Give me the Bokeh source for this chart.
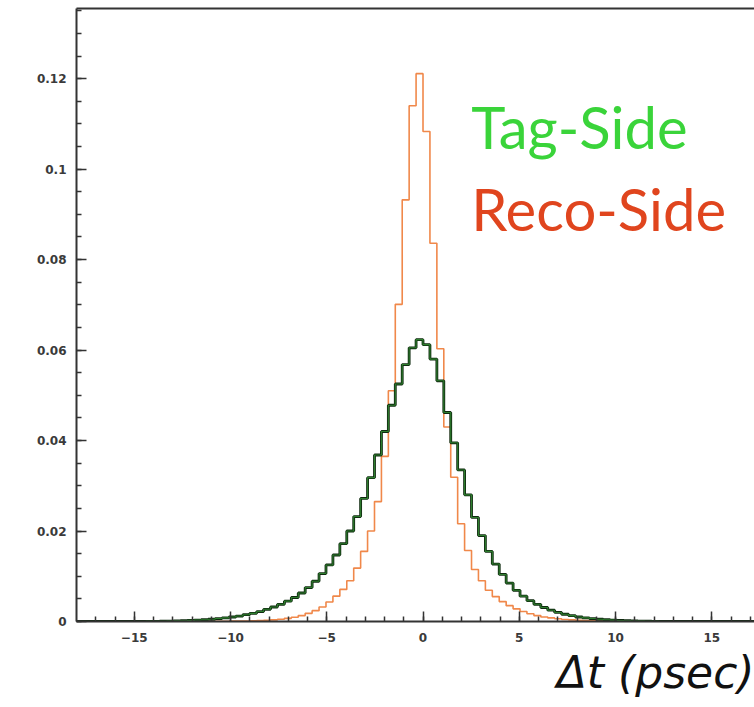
from bokeh.plotting import figure
from bokeh.models import FixedTicker, LinearAxis, Label, Range1d, Title
from bokeh.embed import file_html
from bokeh.resources import INLINE

# Histogram: 100 bins from -18 to 18 ps (bin width 0.36)
bin_lo = -18.0
bin_hi = 18.0
n_bins = 100

# Reco-Side (orange) bin contents, left to right
reco_side = [
    0, 0, 0, 0, 0, 0, 0, 0, 0, 0,
    0, 0, 0, 0, 0, 0, 0, 0, 0.00003, 0.00004,
    0.00005, 0.00006, 0.00008, 0.0001, 0.00012, 0.00016, 0.0002, 0.00027, 0.00037, 0.0005,
    0.0007, 0.00095, 0.0013, 0.0018, 0.0024, 0.0032, 0.0043, 0.0056, 0.0071, 0.0090,
    0.0118, 0.0155, 0.0200, 0.0265, 0.0365, 0.0510, 0.0701, 0.0932, 0.1140, 0.1211,
    0.1083, 0.0836, 0.0603, 0.0430, 0.0319, 0.0216, 0.0157, 0.0115, 0.0090, 0.0069,
    0.0055, 0.0044, 0.0035, 0.0028, 0.0022, 0.0017, 0.0013, 0.0010, 0.0008, 0.0006,
    0.00045, 0.00035, 0.00025, 0.0002, 0.00015, 0.0001, 0.00008, 0.00006, 0.00004, 0.00003,
    0, 0, 0, 0, 0, 0, 0, 0, 0, 0,
    0, 0, 0, 0, 0, 0, 0, 0, 0, 0,
]

# Tag-Side (green) bin contents, left to right
tag_side = [
    0, 0, 0, 0, 0, 0, 0, 0, 0, 0,
    0.00003, 0.00004, 0.00006, 0.00009, 0.00013, 0.00018, 0.00024, 0.00032, 0.0004, 0.0005,
    0.00065, 0.0008, 0.0010, 0.0012, 0.0015, 0.0018, 0.0022, 0.0027, 0.0032, 0.0038,
    0.0045, 0.0053, 0.0063, 0.0075, 0.0089, 0.0106, 0.0125, 0.0147, 0.0172, 0.0200,
    0.0232, 0.0272, 0.0318, 0.0368, 0.0420, 0.0478, 0.0525, 0.0568, 0.0605, 0.0623,
    0.0612, 0.0580, 0.0532, 0.0462, 0.0395, 0.0335, 0.0280, 0.0230, 0.0190, 0.0155,
    0.0127, 0.0104, 0.0085, 0.0069, 0.0056, 0.0046, 0.0038, 0.0031, 0.0025, 0.0020,
    0.0016, 0.0013, 0.0010, 0.0008, 0.00065, 0.0005, 0.0004, 0.0003, 0.00023, 0.00017,
    0.00012, 0.00008, 0.00005, 0.00003, 0, 0, 0, 0, 0, 0,
    0, 0, 0, 0, 0, 0, 0, 0, 0, 0,
]

x_major = [-15, -10, -5, 0, 5, 10, 15]
x_labels = ["\u221215", "\u221210", "\u22125", "0", "5", "10", "15"]
y_major = [0, 0.02, 0.04, 0.06, 0.08, 0.1, 0.12]
y_labels = ["0", "0.02", "0.04", "0.06", "0.08", "0.1", "0.12"]

width_bin = (bin_hi - bin_lo) / n_bins
edges = [bin_lo + i * width_bin for i in range(n_bins + 1)]

p = figure(width=754, height=707, output_backend="svg", toolbar_location=None,
           x_range=Range1d(-18, 17.22), y_range=Range1d(0, 0.1355),
           x_axis_location=None, y_axis_location=None,
           min_border_left=76, min_border_right=0, min_border_top=8, min_border_bottom=86)
p.grid.visible = False
p.outline_line_color = None
p.background_fill_color = "white"

def step_xy(vals):
    return edges, list(vals) + [vals[-1]]

gx, gy = step_xy(tag_side)
ox, oy = step_xy(reco_side)
p.step(ox, oy, mode="after", line_color="#f0884a", line_width=1.6)
p.step(gx, gy, mode="after", line_color="#0f2a0f", line_width=2.8)
p.step(gx, gy, mode="after", line_color="#2f7f2f", line_width=1.1)

axis_color = "#333333"
xa = LinearAxis(ticker=FixedTicker(ticks=x_major, minor_ticks=list(range(-17, 18))))
xa.major_label_overrides = {v: s for v, s in zip(x_major, x_labels)}
ya = LinearAxis(ticker=FixedTicker(ticks=y_major, minor_ticks=[i * 0.005 for i in range(28)]))
ya.major_label_overrides = {v: s for v, s in zip(y_major, y_labels)}
for ax in (xa, ya):
    ax.axis_line_color = axis_color
    ax.axis_line_width = 2
    ax.major_tick_in = 10
    ax.major_tick_out = 0
    ax.minor_tick_in = 5
    ax.minor_tick_out = 0
    ax.major_tick_line_color = axis_color
    ax.minor_tick_line_color = axis_color
    ax.major_tick_line_width = 1.5
    ax.minor_tick_line_width = 1.5
    ax.major_label_text_font = "DejaVu Sans"
    ax.major_label_text_font_size = "12px"
    ax.major_label_text_font_style = "bold"
    ax.major_label_text_color = "#3a3a3a"
xa.major_label_standoff = 11
ya.major_label_standoff = 10
p.add_layout(xa, "below")
p.add_layout(ya, "left")

top = LinearAxis(ticker=FixedTicker(ticks=[]))
top.axis_line_color = axis_color
top.axis_line_width = 2
top.major_tick_in = 0
top.major_tick_out = 0
top.minor_tick_in = 0
top.minor_tick_out = 0
p.add_layout(top, "above")

p.add_layout(Label(x=2.5, y=0.1094, text="Tag-Side", text_color="#3ad43a",
                   text_font="Lato", text_font_size="58px", text_baseline="alphabetic"))
p.add_layout(Label(x=2.5, y=0.0912, text="Reco-Side", text_color="#e0451e",
                   text_font="Lato", text_font_size="58px", text_baseline="alphabetic"))

xt = Title(text="\u0394t (psec)", align="right", text_color="#111111",
           text_font="DejaVu Sans", text_font_size="44px", text_font_style="italic",
           standoff=0, offset=0)
p.add_layout(xt, "below")

open("out.html", "w").write(file_html(p, INLINE))
